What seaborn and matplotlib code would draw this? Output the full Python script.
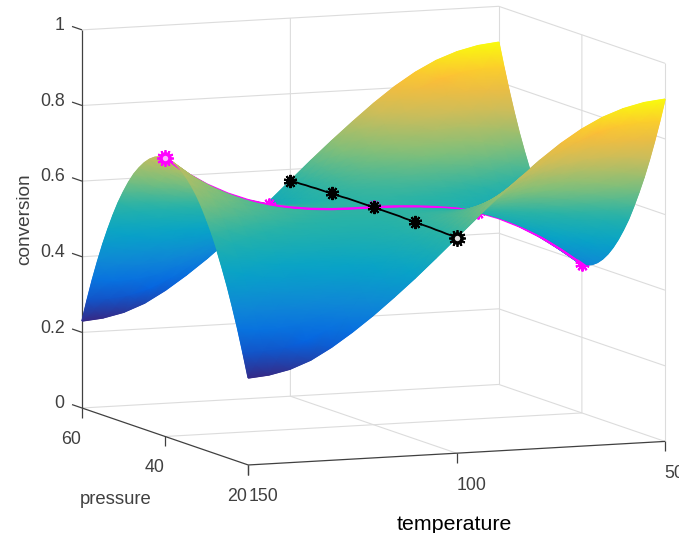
import numpy as np
import matplotlib
matplotlib.use("Agg")
import matplotlib.pyplot as plt
import seaborn as sns
from matplotlib.collections import LineCollection
from mpl_toolkits.mplot3d import proj3d

temperature = [150, 145, 140, 135, 130, 125, 120, 115, 110, 105, 100,
               95, 90, 85, 80, 75, 70, 65, 60, 55, 50]
pressure = [60, 58.75, 57.5, 56.25, 55, 53.75, 52.5, 51.25, 50, 48.75, 47.5, 46.25, 45, 43.75, 42.5, 41.25, 40,
            38.75, 37.5, 36.25, 35, 33.75, 32.5, 31.25, 30, 28.75, 27.5, 26.25, 25, 23.75, 22.5, 21.25, 20]

# conversion, rows from pressure 60 down to 40
conv_back = [
    [.230, .235, .247, .268, .299, .336, .377, .422, .469, .519, .570, .621, .670, .717, .762, .803, .838, .866, .886, .899, .905],
    [.291, .291, .297, .312, .337, .368, .402, .441, .482, .526, .571, .615, .658, .699, .737, .772, .800, .822, .836, .843, .843],
    [.349, .342, .344, .353, .372, .397, .426, .459, .494, .532, .571, .610, .647, .682, .714, .743, .765, .781, .789, .790, .785],
    [.402, .391, .387, .392, .405, .425, .448, .476, .505, .538, .572, .605, .636, .666, .693, .716, .733, .743, .745, .741, .731],
    [.452, .436, .428, .428, .436, .450, .469, .491, .516, .543, .572, .600, .627, .651, .673, .691, .702, .707, .705, .696, .681],
    [.497, .477, .465, .460, .464, .474, .488, .505, .525, .549, .573, .596, .618, .637, .655, .668, .675, .675, .668, .654, .636],
    [.539, .515, .499, .490, .490, .495, .505, .518, .534, .553, .573, .592, .610, .625, .638, .647, .649, .645, .634, .616, .594],
    [.577, .549, .529, .518, .513, .515, .521, .530, .542, .557, .573, .589, .602, .614, .623, .628, .626, .618, .603, .582, .555],
    [.610, .579, .557, .542, .534, .532, .534, .540, .549, .561, .574, .586, .596, .604, .610, .611, .606, .594, .576, .551, .522],
    [.640, .606, .581, .563, .552, .547, .547, .550, .556, .564, .574, .583, .590, .595, .598, .596, .587, .572, .551, .524, .492],
    [.666, .629, .602, .582, .568, .560, .557, .558, .561, .567, .574, .581, .585, .587, .588, .583, .572, .554, .530, .500, .466],
    [.687, .649, .620, .597, .581, .571, .566, .565, .566, .570, .575, .579, .581, .581, .579, .572, .558, .539, .513, .480, .444],
    [.705, .665, .634, .610, .592, .581, .574, .570, .569, .571, .575, .577, .577, .575, .572, .563, .547, .526, .498, .464, .426],
    [.719, .678, .646, .620, .601, .588, .580, .574, .572, .573, .575, .576, .574, .571, .566, .556, .539, .516, .486, .451, .412],
    [.729, .687, .653, .627, .607, .593, .584, .577, .574, .574, .575, .575, .573, .568, .562, .551, .533, .509, .479, .442, .402],
    [.735, .692, .658, .632, .611, .596, .586, .579, .576, .575, .575, .574, .571, .567, .560, .548, .529, .504, .474, .437, .396],
    [.737, .694, .660, .633, .612, .597, .587, .580, .576, .575, .575, .574, .571, .566, .559, .547, .528, .503, .472, .435, .394],
]
# the front half mirrors the back half
conversion = np.array(conv_back + conv_back[-2::-1])

temp_ticks = [150, 100, 50]
press_ticks = [60, 40, 20]
conv_ticks = [0, 0.2, 0.4, 0.6, 0.8, 1]
conv_labels = ["0", "0.2", "0.4", "0.6", "0.8", "1"]

magenta_temps = [150, 125, 100, 75, 50]
black_press = [60, 50, 40, 30, 20]

parula = sns.blend_palette([(.208, .166, .529), (.02, .40, .89), (.06, .53, .84),
                            (.03, .64, .78), (.15, .70, .66), (.50, .75, .48),
                            (.79, .74, .36), (.99, .74, .22), (.976, .983, .054)],
                           n_colors=256, as_cmap=True)

sns.set_theme(style="white")
plt.rcParams["font.family"] = ["Liberation Sans", "DejaVu Sans"]

DARK = "#404040"
LIGHT = "#dcdcdc"

fig = plt.figure(figsize=(6.79, 5.33), dpi=100)
ax = fig.add_axes([0, 0, 1, 1], projection="3d", proj_type="ortho")
ax.set_axis_off()
ax.set_xlim(150, 50)
ax.set_ylim(20, 60)
ax.set_zlim(0, 1)
ax.view_init(elev=8.0, azim=-112.1)
ax.set_box_aspect((450, 442, 382))


def project(t, p, c):
    x, y, _ = proj3d.proj_transform(np.asarray(t, float), np.asarray(p, float),
                                    np.asarray(c, float), ax.get_proj())
    return x, y


def to_pixels(t, p, c):
    x, y = project([t], [p], [c])
    return ax.transData.transform((x[0], y[0]))


# fit the box to the figure: left corner and right corner of the floor
fig.canvas.draw()
span = to_pixels(50, 20, 0)[0] - to_pixels(150, 60, 0)[0]
ax.set_box_aspect((450, 442, 382), zoom=583 / span)
fig.canvas.draw()
left = to_pixels(150, 60, 0)
pos = ax.get_position()
ax.set_position([pos.x0 + (82 - left[0]) / 679, pos.y0 + (533 - 408 - left[1]) / 533,
                 pos.width, pos.height])
fig.canvas.draw()

top = fig.add_axes([0, 0, 1, 1], frameon=False)
top.set_xticks([])
top.set_yticks([])


def line3d(t, p, c, zorder=1, **kw):
    x, y = project(t, p, c)
    top.plot(x, y, transform=ax.transData, clip_on=False, solid_capstyle="butt", zorder=zorder, **kw)


def label(t, p, c, text, dx, dy, **kw):
    # offsets are in pixels, converted to points
    x, y = project([t], [p], [c])
    top.annotate(text, (x[0], y[0]), xycoords=ax.transData,
                 xytext=(dx * 0.72, -dy * 0.72), textcoords="offset points",
                 ha="center", va="center", annotation_clip=False, **kw)


# back walls and floor
thin = dict(color=LIGHT, lw=0.8)
for c in conv_ticks:
    line3d([150, 50, 50], [60, 60, 20], [c, c, c], **thin)
line3d([50, 50], [60, 60], [0, 1], **thin)
line3d([50, 50], [20, 20], [0, 1], **thin)
line3d([100, 100, 100], [60, 60, 20], [1, 0, 0], **thin)
line3d([50, 50, 150], [40, 40, 40], [1, 0, 0], **thin)

# axis lines and ticks
axis = dict(color=DARK, lw=0.9)
line3d([50, 150, 150], [20, 20, 60], [0, 0, 0], **axis)
line3d([150, 150], [60, 60], [0, 1], **axis)
for t in temp_ticks:
    line3d([t, t], [20, 20], [0, -0.026], **axis)
for p in press_ticks:
    line3d([150, 150], [p, p], [0, -0.026], **axis)
for c in conv_ticks:
    line3d([150, 150], [60, 62.4], [c, c], **axis)

tick_font = dict(color=DARK, fontsize=12.8)
for c, text in zip(conv_ticks, conv_labels):
    x, y = project([150], [60], [c])
    top.annotate(text, (x[0], y[0]), xycoords=ax.transData, xytext=(-12.5, 3),
                 textcoords="offset points", ha="right", va="center",
                 annotation_clip=False, **tick_font)
for t, shift in zip(temp_ticks, [15, 15, 9.5]):
    label(t, 20, 0, str(t), shift, 32, **tick_font)
for p in press_ticks:
    label(150, p, 0, str(p), -11, 31.5, **tick_font)

top.text(24.5 / 679, 1 - 219.5 / 533, "conversion", transform=fig.transFigure, rotation=90,
         ha="center", va="center", color=DARK, fontsize=13.7)
top.text(116 / 679, 1 - 500 / 533, "pressure", transform=fig.transFigure,
         ha="center", va="center", color=DARK, fontsize=13.3)
top.text(454 / 679, 1 - 525 / 533, "temperature", transform=fig.transFigure,
         ha="center", va="center", color="black", fontsize=15.4)

# surface, drawn back to front so it hides itself like the original
T, P = np.meshgrid(temperature, pressure)
X, Y = project(T.ravel(), P.ravel(), conversion.ravel())
X = X.reshape(T.shape)[:, ::-1]
Y = Y.reshape(T.shape)[:, ::-1]
C = conversion[:, ::-1]
vmin, vmax = conversion.min(), conversion.max()


def edge(xs, ys, cs):
    # thin coloured outline under the mesh, softens the jagged gouraud border
    pts = np.column_stack([xs, ys])
    segs = np.stack([pts[:-1], pts[1:]], axis=1)
    lc = LineCollection(segs, cmap=parula, transform=ax.transData, linewidths=1.0, zorder=1.5)
    lc.set_array((cs[:-1] + cs[1:]) / 2)
    lc.set_clim(vmin, vmax)
    top.add_collection(lc, autolim=False)


edge(X[0], Y[0], C[0])
edge(X[-1], Y[-1], C[-1])
edge(X[:, 0], Y[:, 0], C[:, 0])
edge(X[:, -1], Y[:, -1], C[:, -1])

mid = pressure.index(38.75)
top.pcolormesh(X[:mid + 1], Y[:mid + 1], C[:mid + 1], shading="gouraud", cmap=parula,
               vmin=vmin, vmax=vmax, transform=ax.transData, zorder=2, clip_on=False)
top.pcolormesh(X[mid:], Y[mid:], C[mid:], shading="gouraud", cmap=parula,
               vmin=vmin, vmax=vmax, transform=ax.transData, zorder=4, clip_on=False)

# magenta run at pressure 40, sits inside the surface
row40 = conversion[pressure.index(40)]
line3d(temperature, [40] * len(temperature), row40, zorder=3, color="#ff00ff", lw=1.8)
for t in magenta_temps[1:]:
    c = row40[temperature.index(t)]
    x, y = project([t], [40], [c])
    top.plot(x, y, transform=ax.transData, marker=(10, 2, 0), ms=10, mew=1.5, color="#ff00ff",
             ls="none", zorder=3, clip_on=False)

# black run at temperature 100, on top
col100 = conversion[:, temperature.index(100)]
line3d([100] * len(pressure), pressure, col100, zorder=5, color="black", lw=1.3)
for p in black_press[:-1]:
    x, y = project([100], [p], [col100[pressure.index(p)]])
    top.plot(x, y, transform=ax.transData, marker=(10, 2, 0), ms=9.5, mew=1.5, color="black",
             ls="none", zorder=6, clip_on=False)


def big_marker(t, p, c, color, center):
    x, y = project([t], [p], [c])
    top.plot(x, y, transform=ax.transData, marker=(12, 2, 0), ms=12, mew=1.3, color=color,
             ls="none", zorder=6, clip_on=False)
    top.plot(x, y, transform=ax.transData, marker="o", ms=6.5, mew=2.6, mfc=center, mec=color,
             ls="none", zorder=6, clip_on=False)


big_marker(150, 40, row40[0], "#ff00ff", "#ffb0ff")
big_marker(100, 20, col100[-1], "black", "#e0e0e0")

fig.savefig("out.png", dpi=100)
